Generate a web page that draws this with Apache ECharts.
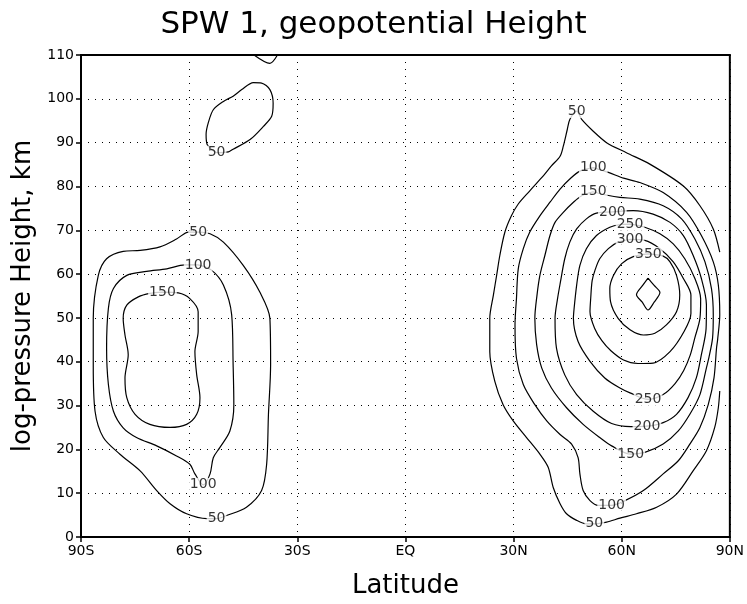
<!DOCTYPE html>
<html><head><meta charset="utf-8">
<script src="https://cdn.jsdelivr.net/npm/echarts@6/dist/echarts.min.js"></script>
<style>html,body{margin:0;padding:0;background:#fff}#c{width:747px;height:604px}</style>
</head><body><div id="c"></div>
<script>
// Axis tick labels
const xTickLabels = ['90S','60S','30S','EQ','30N','60N','90N'];
const yTickValues = [0,10,20,30,40,50,60,70,80,90,100,110];

// Contour lines [latitude, height km]
const south50 = [[-57.5,69.6],[-54.2,69.2],[-50.5,67.3],[-45.0,62.0],[-40.4,55.9],[-37.6,49.9],[-37.4,39.3],[-38.0,28.0],[-38.5,16.6],[-39.9,10.6],[-44.1,6.8],[-49.6,4.9],[-52.4,4.2],[-55.1,4.2],[-60.7,5.3],[-65.3,7.6],[-69.0,10.6],[-73.6,15.1],[-79.2,18.9],[-83.8,22.7],[-86.1,28.7],[-86.6,39.3],[-86.6,49.9],[-85.2,59.7],[-82.9,63.5],[-78.3,65.2],[-73.6,65.4],[-68.1,66.2],[-63.5,68.0],[-60.2,69.6],[-57.5,69.6]];
const south100 = [[-57.5,62.1],[-53.8,60.9],[-50.5,57.5],[-48.2,50.7],[-47.8,39.3],[-47.6,30.2],[-48.7,24.2],[-51.5,20.4],[-53.3,18.1],[-54.2,14.4],[-56.1,11.9],[-58.4,14.4],[-59.8,16.6],[-63.5,18.5],[-69.0,20.8],[-74.6,22.7],[-78.3,24.9],[-81.0,28.7],[-82.4,34.8],[-82.9,43.1],[-82.4,52.2],[-81.0,56.7],[-77.3,59.7],[-71.8,60.6],[-66.2,61.2],[-61.2,62.1],[-57.5,62.1]];
const south150 = [[-67.4,55.9],[-63.0,55.7],[-59.8,54.4],[-57.5,51.4],[-57.5,46.9],[-58.4,42.3],[-57.9,37.0],[-57.0,31.8],[-57.9,28.0],[-60.7,25.7],[-65.3,25.0],[-70.9,25.7],[-75.0,28.0],[-77.3,31.8],[-77.8,36.3],[-76.9,41.6],[-77.8,46.1],[-78.3,49.9],[-77.3,52.9],[-74.1,54.8],[-70.9,55.6],[-67.4,55.9]];
const southTop50 = [[-52.4,87.7],[-49.1,87.9],[-47.8,88.5],[-43.1,90.7],[-39.4,93.7],[-37.1,96.0],[-36.7,99.0],[-37.6,102.1],[-39.9,103.6],[-42.2,103.7],[-45.4,102.1],[-47.8,100.6],[-50.5,99.4],[-53.3,97.5],[-54.7,94.5],[-55.3,91.9],[-55.0,89.6],[-52.4,87.7]];
const southEdge = [[-42.0,110.0],[-37.6,108.1],[-35.5,110.0]];
const north50 = [[87.2,33.3],[86.8,29.5],[85.8,25.0],[83.5,19.7],[79.8,15.1],[75.2,9.8],[69.7,6.8],[64.1,5.3],[59.5,4.3],[55.8,3.4],[52.4,3.0],[50.2,3.0],[47.5,3.8],[44.7,5.3],[42.9,7.6],[41.0,11.3],[39.6,15.9],[37.3,18.9],[33.6,22.7],[29.9,26.5],[27.1,30.2],[24.8,35.5],[23.4,42.3],[23.4,49.9],[24.4,55.2],[25.3,59.7],[26.2,64.3],[27.6,69.6],[29.4,73.3],[31.3,76.0],[34.5,79.0],[37.8,82.0],[40.5,84.7],[42.9,86.9],[43.8,89.2],[44.9,93.0],[45.6,95.3],[47.5,97.2],[48.9,95.3],[52.1,92.6],[55.8,90.0],[61.3,87.7],[67.8,85.1],[77.1,80.1],[81.7,75.6],[85.4,70.3],[87.2,65.0]];
const north100 = [[52.1,84.3],[56.3,83.2],[60.5,81.9],[65.0,80.9],[71.5,78.6],[78.0,74.1],[82.1,68.8],[85.4,62.8],[86.8,57.5],[87.2,50.7],[86.6,45.0],[86.3,43.1],[85.6,36.3],[84.0,30.2],[81.7,25.0],[78.9,21.2],[75.7,17.4],[71.5,14.4],[66.0,10.6],[60.9,8.3],[57.2,7.2],[53.5,7.2],[51.2,8.3],[49.3,10.6],[48.4,14.4],[47.9,18.1],[46.1,21.2],[42.9,23.4],[39.2,26.5],[35.9,30.2],[32.7,34.8],[30.8,40.8],[30.4,48.4],[30.8,54.4],[31.3,61.2],[32.7,65.8],[34.5,69.6],[37.3,73.3],[40.1,76.4],[42.9,79.4],[45.6,81.7],[48.4,83.5],[52.1,84.3]];
const north150 = [[52.1,78.8],[56.0,78.0],[59.5,77.5],[65.0,77.1],[71.5,75.6],[76.6,72.6],[80.3,68.0],[83.1,62.8],[84.9,56.7],[85.4,50.7],[85.2,45.4],[84.2,41.0],[83.5,38.6],[81.7,32.5],[78.9,28.0],[75.7,24.2],[71.5,21.2],[66.4,19.3],[62.5,18.9],[57.2,20.8],[53.9,22.7],[49.3,25.7],[44.7,29.5],[40.5,34.0],[37.8,38.6],[36.4,43.9],[35.9,49.9],[36.5,55.2],[37.3,59.7],[38.7,64.3],[40.1,68.8],[41.5,71.8],[43.8,74.1],[46.6,76.4],[48.9,77.9],[52.1,78.8]];
const north200 = [[57.4,74.2],[63.2,74.5],[68.7,73.7],[73.4,71.8],[77.1,68.8],[79.8,64.3],[82.1,59.0],[83.5,53.0],[83.4,47.5],[82.1,41.6],[80.7,36.3],[78.4,31.8],[75.2,28.0],[71.5,26.1],[67.0,25.3],[62.5,25.2],[57.2,25.9],[52.1,28.7],[47.5,32.5],[44.2,37.0],[41.9,43.1],[41.5,49.9],[42.2,54.4],[43.0,58.2],[44.2,63.5],[45.6,67.3],[47.5,70.3],[50.2,72.6],[53.0,73.9],[57.4,74.2]];
const north250 = [[62.3,71.4],[66.4,70.7],[70.6,69.2],[74.3,66.9],[77.5,63.5],[80.3,59.0],[81.9,54.4],[81.7,49.9],[80.3,45.5],[79.0,41.5],[77.2,38.0],[74.8,35.0],[71.5,32.5],[67.3,31.4],[62.3,32.9],[59.5,34.0],[55.3,36.3],[51.2,40.1],[47.9,44.6],[46.6,49.9],[46.8,52.2],[47.5,57.5],[48.4,62.0],[50.2,65.8],[53.0,68.8],[56.7,70.7],[59.5,71.3],[62.3,71.4]];
const north300 = [[62.3,67.9],[66.4,67.7],[70.6,65.8],[74.3,62.8],[77.1,59.0],[79.2,55.2],[79.2,51.0],[77.3,46.9],[73.4,42.3],[68.7,39.7],[64.5,39.6],[60.5,40.4],[57.0,42.5],[54.5,44.8],[52.5,47.6],[51.2,51.4],[51.4,54.5],[51.8,58.5],[52.6,60.9],[53.9,63.5],[56.3,65.8],[59.0,67.3],[62.3,67.9]];
const north350 = [[67.4,64.6],[71.5,64.1],[73.4,62.8],[75.2,59.7],[76.1,55.2],[75.2,51.4],[72.4,48.4],[69.2,46.5],[66.0,46.1],[62.3,47.3],[59.0,49.9],[56.9,53.7],[56.7,56.7],[57.7,59.7],[60.0,62.4],[63.2,64.0],[67.4,64.6]];
const north400 = [[67.3,59.1],[69.0,57.4],[70.6,55.8],[69.0,53.6],[67.3,51.8],[65.7,53.6],[64.1,55.3],[65.7,57.3],[67.3,59.1]];

// Contour labels [latitude, height km, text]
const contourLabels = [
  [-57.5,69.6,'50'],[-52.4,4.2,'50'],[-57.5,62.1,'100'],[-56.1,11.9,'100'],[-67.4,55.9,'150'],[-52.4,87.7,'50'],
  [47.5,97.2,'50'],[52.4,3.0,'50'],[52.1,84.3,'100'],[57.2,7.2,'100'],[52.1,78.8,'150'],[62.5,18.9,'150'],
  [57.4,74.2,'200'],[67.0,25.3,'200'],[62.3,71.4,'250'],[67.3,31.4,'250'],[62.3,67.9,'300'],[67.4,64.6,'350']
];

const lines = [south50,south100,south150,southTop50,southEdge,north50,north100,north150,north200,north250,north300,north350,north400];
const FONT = 'DejaVu Sans';
const chart = echarts.init(document.getElementById('c'), null, {renderer:'canvas'});
const series = lines.map(d => ({
  type:'line', data:d, showSymbol:false, smooth:0.3, silent:true, animation:false,
  lineStyle:{color:'#000', width:1.2}, z:3, clip:true
}));
series.push({
  type:'scatter', data:contourLabels, symbolSize:0, silent:true, animation:false, z:5,
  label:{show:true, position:'inside', formatter:p=>p.value[2], color:'#000', fontFamily:FONT, fontSize:14,
    backgroundColor:'#fff', padding:[0,1]}
});
chart.setOption({
  backgroundColor:'#fff',
  animation:false,
  title:{text:'SPW 1, geopotential Height', left:'center', top:4,
    textStyle:{fontFamily:FONT, fontSize:31, fontWeight:'normal', color:'#000'}},
  grid:{left:81, right:17, top:55, bottom:64, show:true, borderColor:'#000', borderWidth:2},
  xAxis:{type:'value', min:-90, max:90, interval:30, name:'Latitude', nameLocation:'middle', nameGap:36,
    nameTextStyle:{fontFamily:FONT, fontSize:26, color:'#000'},
    axisLine:{show:true, onZero:false, lineStyle:{color:'#000', width:2}},
    axisTick:{show:true, length:5, lineStyle:{color:'#000', width:1.5}},
    axisLabel:{fontFamily:FONT, fontSize:14, color:'#000', margin:7, formatter:v=>xTickLabels[Math.round((v+90)/30)]},
    splitLine:{show:true, lineStyle:{color:'#000', width:1, type:[1,6]}}},
  yAxis:{type:'value', min:0, max:110, interval:10, name:'log-pressure Height, km', nameLocation:'middle', nameGap:43,
    nameTextStyle:{fontFamily:FONT, fontSize:26, color:'#000'},
    axisLine:{show:true, onZero:false, lineStyle:{color:'#000', width:2}},
    axisTick:{show:true, length:5, lineStyle:{color:'#000', width:1.5}},
    axisLabel:{fontFamily:FONT, fontSize:14, color:'#000', margin:7, formatter:v=>yTickValues.includes(v)?String(v):''},
    splitLine:{show:true, lineStyle:{color:'#000', width:1, type:[1,6]}}},
  series:series
});
</script></body></html>
